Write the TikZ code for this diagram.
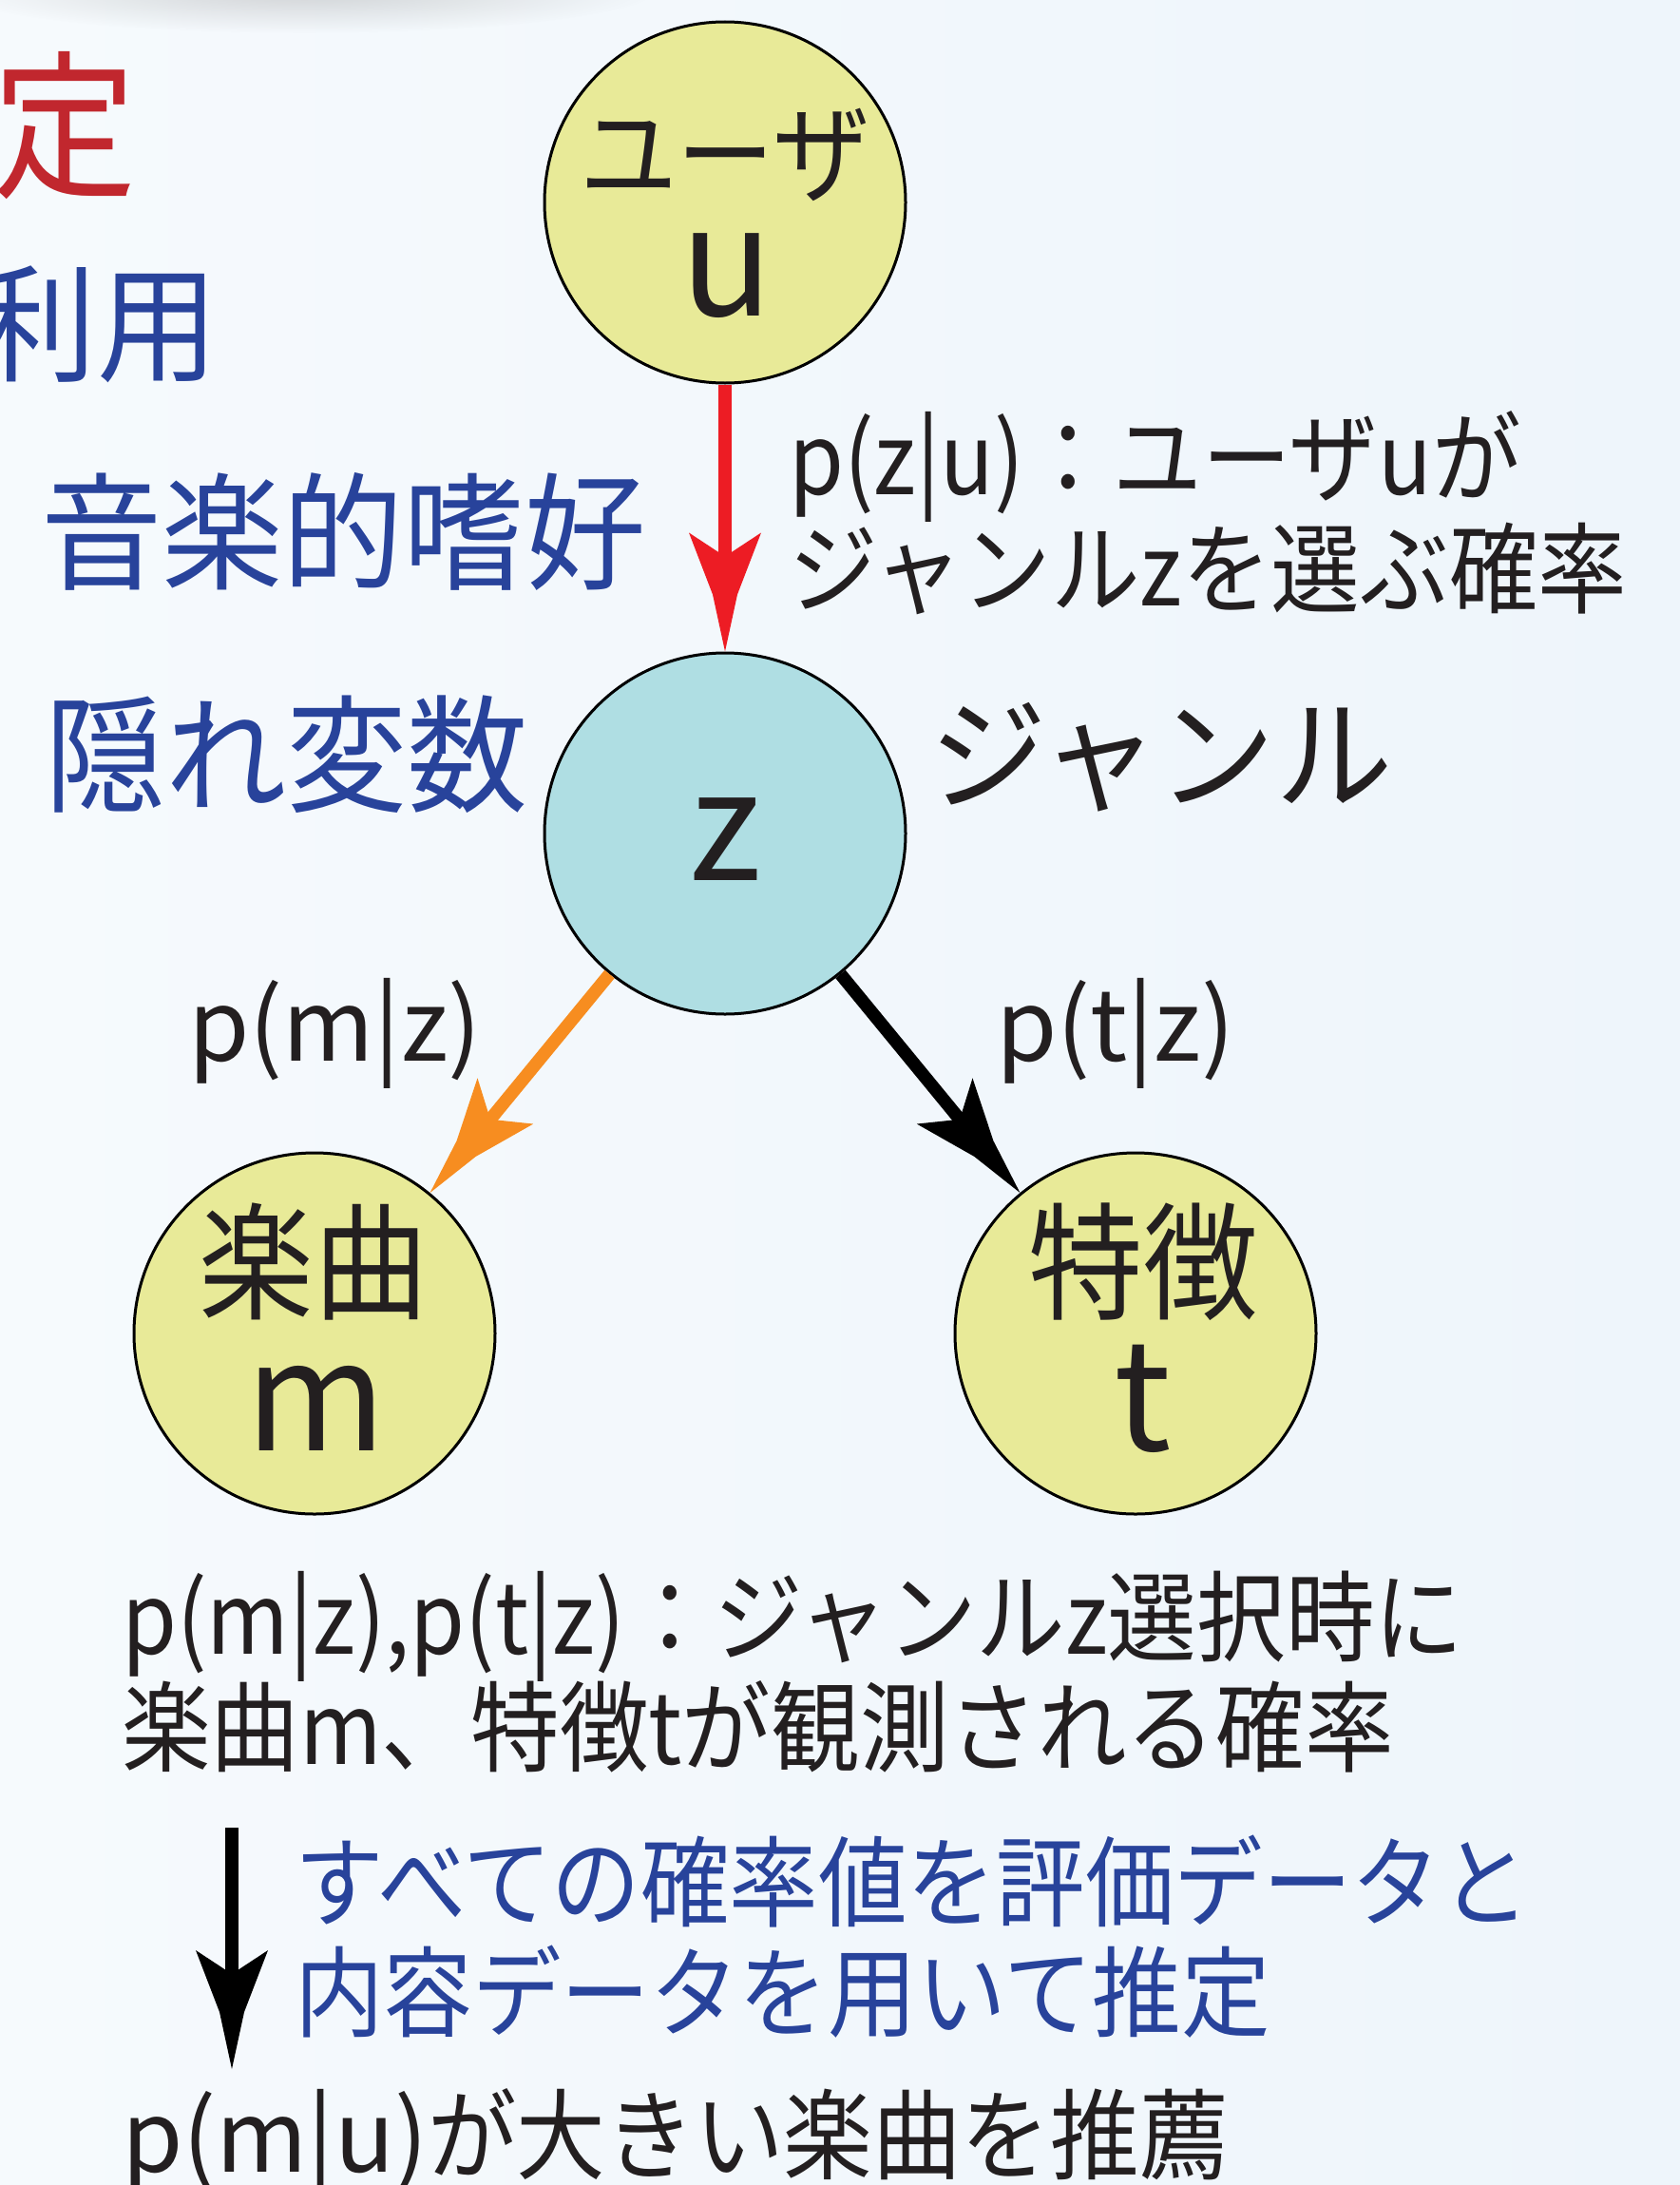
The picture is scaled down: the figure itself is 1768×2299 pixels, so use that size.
\documentclass[tikz,border=0pt]{standalone}
\usepackage{fontspec}
\setmainfont{Noto Sans CJK JP}[FakeStretch=0.9]
\newfontfamily\widejp{Noto Sans CJK JP}[FakeStretch=0.95]
\newfontfamily\latn{Noto Sans CJK JP}
\usetikzlibrary{fadings}
\newcommand\fsz[1]{\fontsize{#1pt}{#1pt}\selectfont}
\definecolor{bgL}{RGB}{246,250,253}
\definecolor{bgR}{RGB}{238,245,251}
\definecolor{ycol}{RGB}{232,234,152}
\definecolor{zcol}{RGB}{175,222,227}
\definecolor{redarr}{RGB}{237,28,36}
\definecolor{orarr}{RGB}{247,141,32}
\definecolor{tblack}{RGB}{35,31,32}
\definecolor{tblue}{RGB}{40,67,155}
\definecolor{tred}{RGB}{193,39,46}
\pgfdeclarearrow{
  name=Barb,
  setup code={
    \pgfarrowssettipend{0pt}
    \pgfarrowssetlineend{-95pt}
    \pgfarrowssetbackend{-125pt}
    \pgfarrowssetvisualbackend{-100pt}
    \pgfarrowshullpoint{0pt}{0pt}
    \pgfarrowshullpoint{-125pt}{38pt}
    \pgfarrowshullpoint{-125pt}{-38pt}
  },
  drawing code={
    \pgfpathmoveto{\pgfqpoint{0pt}{0pt}}
    \pgfpathlineto{\pgfqpoint{-60pt}{13pt}}
    \pgfpathlineto{\pgfqpoint{-125pt}{38pt}}
    \pgfpathlineto{\pgfqpoint{-100pt}{0pt}}
    \pgfpathlineto{\pgfqpoint{-125pt}{-38pt}}
    \pgfpathlineto{\pgfqpoint{-60pt}{-13pt}}
    \pgfpathclose
    \pgfusepathqfill
  }
}
\tikzfading[name=blobfade, inner color=transparent!0, outer color=transparent!100]
\tikzset{
  nodecirc/.style={circle, draw=black, line width=3pt, minimum size=380pt, inner sep=0pt},
  ycirc/.style={nodecirc, fill=ycol},
  zcirc/.style={nodecirc, fill=zcol},
  txt/.style={inner sep=0pt, outer sep=0pt, anchor=base west, text=tblack},
  lbl/.style={txt, font={\fsz{104}}},
  bluelbl/.style={lbl, text=tblue},
  bigblue/.style={txt, font={\widejp\fsz{134}}, text=tblue},
  intext/.style={inner sep=0pt, anchor=base, text=tblack},
  arr/.style={line width=13.5pt, -Barb},
}
\begin{document}
\begin{tikzpicture}[x=1pt, y=-1pt]
\useasboundingbox (0,0) rectangle (1768,2299);
\clip (0,0) rectangle (1768,2299);
\fill[left color=bgL, right color=bgR] (0,0) rectangle (1768,2299);
% blurred shadow of a cut-off title
\fill[gray!80, opacity=0.4, path fading=blobfade] (320,-10) ellipse [x radius=370, y radius=45];

% nodes
\node[ycirc] (u) at (763,213) {};
\node[zcirc] (z) at (763,877) {};
\node[ycirc] (m) at (331,1403) {};
\node[ycirc] (t) at (1195,1403) {};

% texts in circles
\node[intext, font={\fsz{114}}] (ulab) at (763,204) {ユーザ};
\node[intext, font={\latn\fsz{160}}] (uvar) at (765,332) {u};
\node[intext, font={\latn\fsz{160}}] (zvar) at (763,926) {z};
\node[intext, font={\fsz{134}}] (mlab) at (330,1378) {楽曲};
\node[intext, font={\latn\fsz{160}}] (mvar) at (333,1526) {m};
\node[intext, font={\fsz{134}}] (tlab) at (1203,1378) {特徴};
\node[intext, font={\latn\fsz{160}}] (tvar) at (1203,1526) {t};

% connectors
\draw[arr, redarr] (u) -- (z);
\draw[arr, orarr] (z) -- (m);
\draw[arr, black] (z) -- (t);
\coordinate (a1) at (244,1923);
\coordinate (a2) at (244,2177);
\draw[arr, black] (a1) -- (a2);

% left column
\node[txt, font={\fsz{168}}, text=tred] (tei) at (-8,195) {定};
\node[bigblue] (riyo) at (-25,391) {利用};
\node[bigblue] (shiko) at (43,610) {音楽的嗜好};
\node[bigblue] (kakure) at (47,844) {隠れ変数};
\node[txt, font={\widejp\fsz{130}}] (genre) at (978,842) {ジャンル};

% labels
\node[lbl] (pzu1) at (830,520) {p(z|u)：ユーザuが};
\node[lbl] (pzu2) at (830,637) {ジャンルzを選ぶ確率};
\node[lbl] (pmz) at (198,1116) {{\latn p(m|z)}};
\node[lbl] (ptz) at (1048,1116) {{\latn p(t|z)}};
\node[lbl] (exp1) at (128,1740) {p(m|z),p(t|z)：ジャンルz選択時に};
\node[lbl] (exp2) at (128,1856) {楽曲m、特徴tが観測される確率};
\node[bluelbl] (est1) at (310,2019) {すべての確率値を評価データと};
\node[bluelbl] (est2) at (310,2135) {内容データを用いて推定};
\node[lbl] (rec) at (128,2285) {{\latn p(m|u)}が大きい楽曲を推薦};
\end{tikzpicture}
\end{document}
